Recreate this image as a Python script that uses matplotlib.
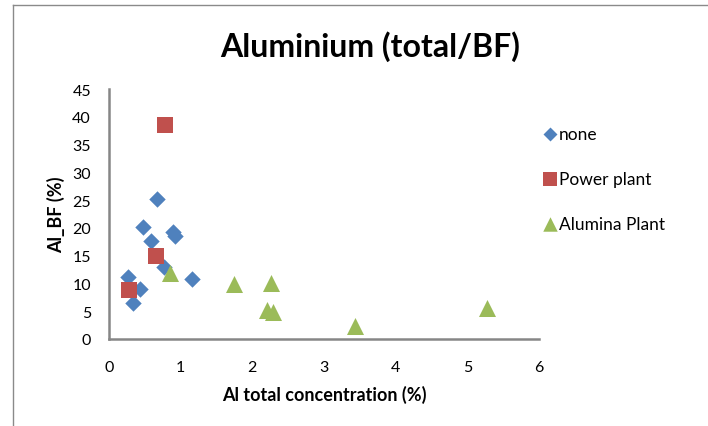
import matplotlib
matplotlib.use("Agg")
import matplotlib.pyplot as plt
from matplotlib.lines import Line2D

plt.rcParams['font.family'] = ['Lato', 'DejaVu Sans']

# Data
none_x = [0.665, 0.48, 0.89, 0.925, 0.58, 0.77, 0.26, 1.16, 0.43, 0.33]
none_y = [25.2, 20.1, 19.2, 18.5, 17.6, 12.9, 11.2, 10.8, 9.0, 6.4]
power_x = [0.785, 0.66, 0.28]
power_y = [38.6, 15.0, 8.8]
alumina_x = [0.85, 1.74, 2.26, 2.2, 2.29, 3.43, 5.28]
alumina_y = [11.9, 9.9, 10.1, 5.2, 4.8, 2.4, 5.5]

series_labels = ["none", "Power plant", "Alumina Plant"]
title = "Aluminium (total/BF)"
xlabel = "Al total concentration (%)"
ylabel = "Al_BF (%)"
xticks = [0, 1, 2, 3, 4, 5, 6]
yticks = [0, 5, 10, 15, 20, 25, 30, 35, 40, 45]

W, H = 708, 427
fig = plt.figure(figsize=(W / 100, H / 100), dpi=100)
fig.patch.set_facecolor("white")

# outer chart frame (top and left visible)
fig.add_artist(Line2D([13 / W, 13 / W], [0, 1 - 6 / H], color="#8a8a8a", lw=1.0))
fig.add_artist(Line2D([13 / W, 1], [1 - 6 / H, 1 - 6 / H], color="#8a8a8a", lw=1.0))

ax = fig.add_axes([109 / W, 1 - 340 / H, (539 - 109) / W, (340 - 90) / H])

ax.scatter(none_x, none_y, marker="D", s=70, color="#4F81BD", label=series_labels[0], zorder=3, linewidths=0)
ax.scatter(power_x, power_y, marker="s", s=130, color="#C0504D", label=series_labels[1], zorder=3, linewidths=0)
ax.scatter(alumina_x, alumina_y, marker="^", s=150, color="#9BBB59", label=series_labels[2], zorder=3, linewidths=0)

ax.set_xlim(0, 6)
ax.set_ylim(0, 45)
ax.set_xticks(xticks)
ax.set_yticks(yticks)
ax.tick_params(length=0, labelsize=11.5, colors="black")
ax.tick_params(axis="y", pad=13)
ax.tick_params(axis="x", pad=15)
for s in ["top", "right"]:
    ax.spines[s].set_visible(False)
for s in ["left", "bottom"]:
    ax.spines[s].set_color("#868686")
    ax.spines[s].set_linewidth(1.8)

ax.set_xlabel(xlabel, fontsize=13, fontweight="bold", labelpad=8)
ax.set_ylabel(ylabel, fontsize=13, fontweight="bold", labelpad=5)

fig.text(370 / W, 1 - 47 / H, title, ha="center", va="center", fontsize=23, fontweight="bold")

leg = ax.legend(loc="upper left", bbox_to_anchor=(536 / W, 1 - 118 / H), bbox_transform=fig.transFigure,
                frameon=False, fontsize=12.5, handlelength=0.6, handletextpad=0.2,
                labelspacing=1.68, borderpad=0, markerscale=0.85)

fig.savefig("out.png", dpi=100)
